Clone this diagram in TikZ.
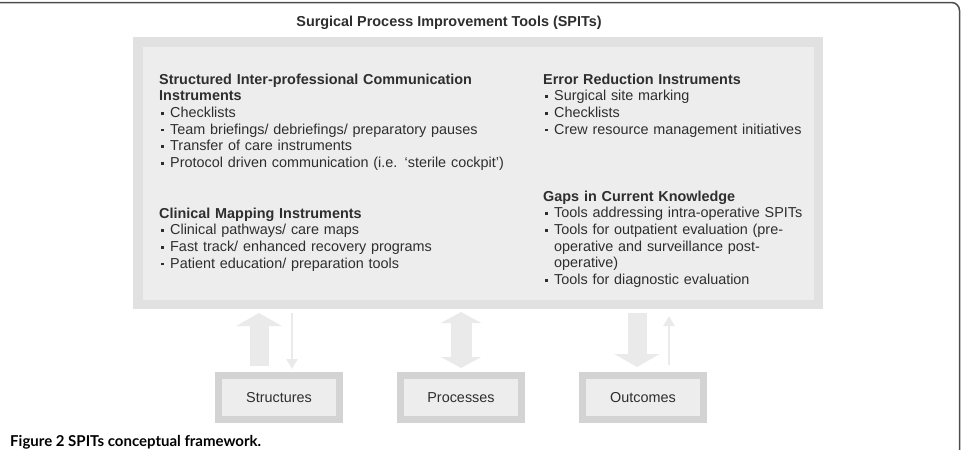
\documentclass[tikz,border=0pt]{standalone}
\usepackage{fontspec}
\setmainfont{Liberation Sans}
\newfontfamily\capfont{Lato}
\usetikzlibrary{arrows.meta,calc}
\definecolor{framegray}{HTML}{4D4D4D}
\definecolor{boxouter}{HTML}{E1E1E1}
\definecolor{boxinner}{HTML}{EDEDED}
\definecolor{smallouter}{HTML}{D3D3D3}
\definecolor{arrowgray}{HTML}{EAEAEA}
\definecolor{textgray}{HTML}{2E2E2E}
\newcommand{\bul}{\makebox[11pt][l]{\hspace{2pt}\rule[3pt]{2.6pt}{2.6pt}}}
\newcommand{\hangin}{\hspace*{11pt}}
\begin{document}
\begin{tikzpicture}[x=1pt,y=-1pt,
  txt/.style={font=\fontsize{14.4}{16.65}\selectfont, text=textgray, inner sep=0pt},
  block/.style={txt, anchor=north west, text width=400pt, align=left},
  mainbox/.style={draw=boxouter, line width=9.5pt, fill=boxinner, minimum width=680.5pt, minimum height=262.5pt, inner sep=0pt},
  smallbox/.style={draw=smallouter, line width=7pt, fill=boxinner, minimum width=121pt, minimum height=44pt, inner sep=0pt, txt},
  thickarrow/.style={draw=arrowgray, line width=19pt, -{Triangle[length=13pt,width=45pt]}},
  dblarrow/.style={draw=arrowgray, line width=21pt, {Triangle[length=11pt,width=40pt]}-{Triangle[length=11pt,width=40pt]}},
  thinarrow/.style={draw=arrowgray, line width=2.6pt, -{Triangle[length=10pt,width=11pt]}}
]
\useasboundingbox (0,0) rectangle (967,450);
% outer frame
\draw[framegray, line width=1.5pt, rounded corners=8pt] (-10,2.5) -- (959.5,2.5) -- (959.5,470);
% title
\node[txt, font=\fontsize{14.4}{16.65}\selectfont\bfseries] (title) at (449,23) {Surgical Process Improvement Tools (SPITs)};
% main box
\node[mainbox] (spits) at (478,173) {};
% text blocks
\node[block] (comm) at (159,72.4) {\strut\textbf{Structured Inter-professional Communication}\\
\textbf{Instruments}\\
\bul Checklists\\
\bul Team briefings/ debriefings/ preparatory pauses\\
\bul Transfer of care instruments\\
\bul Protocol driven communication (i.e. `sterile cockpit')};
\node[block] (clin) at (159,206.4) {\strut\textbf{Clinical Mapping Instruments}\\
\bul Clinical pathways/ care maps\\
\bul Fast track/ enhanced recovery programs\\
\bul Patient education/ preparation tools};
\node[block] (err) at (543,72.4) {\strut\textbf{Error Reduction Instruments}\\
\bul Surgical site marking\\
\bul Checklists\\
\bul Crew resource management initiatives};
\node[block] (gaps) at (543,189.4) {\strut\textbf{Gaps in Current Knowledge}\\
\bul Tools addressing intra-operative SPITs\\
\bul Tools for outpatient evaluation (pre-\\
\hangin operative and surveillance post-\\
\hangin operative)\\
\bul Tools for diagnostic evaluation};
% small boxes
\node[smallbox] (struct) at (279,397.5) {Structures};
\node[smallbox] (proc) at (461,397.5) {Processes};
\node[smallbox] (outc) at (643,397.5) {Outcomes};
% arrows
\draw[thickarrow] ($([xshift=-20pt]struct.north)+(0,-6)$) -- ($([xshift=-20pt]struct.north |- spits.south)+(0,4)$);
\draw[thinarrow] ($([xshift=13pt]struct.north |- spits.south)+(0,4)$) -- ($([xshift=13pt]struct.north)+(0,-3)$);
\draw[dblarrow] ($(proc.north |- spits.south)+(0,3)$) -- ($(proc.north)+(0,-4)$);
\draw[thickarrow] ($([xshift=-6pt]outc.north |- spits.south)+(0,4)$) -- ($([xshift=-6pt]outc.north)+(0,-5)$);
\draw[thinarrow] ($([xshift=26pt]outc.north)+(0,-7)$) -- ($([xshift=26pt]outc.north |- spits.south)+(0,7)$);
% caption
\node[anchor=base west, inner sep=0pt, font=\capfont\fontsize{15}{17}\selectfont\bfseries, text=black] (cap) at (10,446) {Figure 2 SPITs conceptual framework.};
\end{tikzpicture}
\end{document}
